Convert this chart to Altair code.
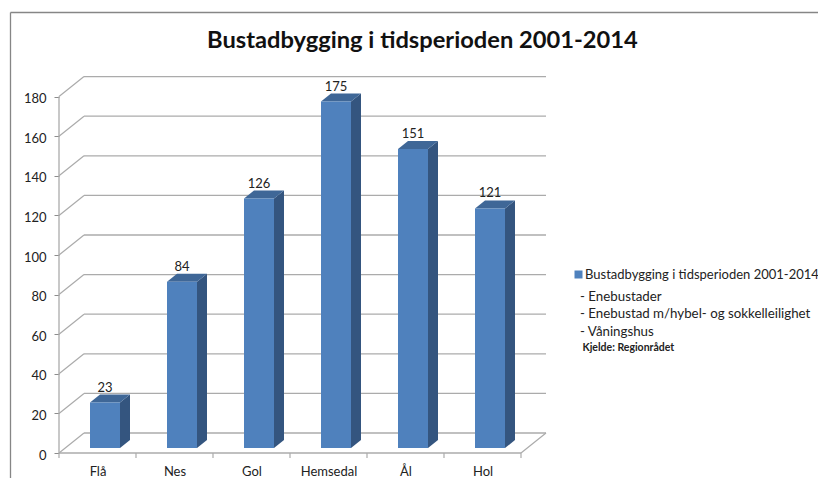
import altair as alt
import pandas as pd

categories = ["Flå", "Nes", "Gol", "Hemsedal", "Ål", "Hol"]
values = [23, 84, 126, 175, 151, 121]
y_ticks = [0, 20, 40, 60, 80, 100, 120, 140, 160, 180]
series = "Bustadbygging i tidsperioden 2001-2014"
notes = ["- Enebustader", "- Enebustad m/hybel- og sokkelleilighet", "- Våningshus"]
note_rows = [219.5, 237, 255]
source_note = "Kjelde: Regionrådet"
title_text = "Bustadbygging i tidsperioden 2001-2014"

FONT = "Lato"
W, H = 487, 376
DEPTH_X, DEPTH_Y = 25 / 77, 20 / 1.98        # wall depth in data units
X0, X1 = -0.5, 5.5
BAR_SHIFT, BAR_HALF = 7.5 / 77, 15 / 77
BAR_BASE = 2.5
SIDE_X, SIDE_Y = 10 / 77, 8 / 1.98

x_scale = alt.Scale(domain=[X0, X1 + DEPTH_X], nice=False, zero=False)
y_scale = alt.Scale(domain=[0, H / 1.98], nice=False, zero=False)
xq = alt.X("x:Q", scale=x_scale, title=None,
           axis=alt.Axis(values=list(range(6)), grid=False, domain=False, ticks=False,
                         labelExpr="['Flå','Nes','Gol','Hemsedal','Ål','Hol'][datum.value]",
                         labelFont=FONT, labelFontSize=13, labelColor="#222222",
                         labelPadding=12, labelAngle=0, labelFlush=False, labelOverlap=False))
yq = alt.Y("y:Q", scale=y_scale, title=None,
           axis=alt.Axis(values=y_ticks, grid=False, domain=False, tickColor="#8c8c8c", tickSize=5,
                         labelFont=FONT, labelFontSize=13, labelColor="#222222", labelPadding=8,
                         labelOffset=2, labelFlush=False, labelOverlap=False))
x2 = alt.X2("x2:Q")
y2 = alt.Y2("y2:Q")

GRID = "#ababab"

# wall grid lines and diagonals
walls = pd.DataFrame(
    [{"x": X0 + DEPTH_X, "x2": X1 + DEPTH_X, "y": v + DEPTH_Y, "y2": v + DEPTH_Y} for v in y_ticks]
    + [{"x": X0, "x2": X0 + DEPTH_X, "y": v, "y2": v + DEPTH_Y} for v in y_ticks]
    + [{"x": X1, "x2": X1 + DEPTH_X, "y": 0, "y2": DEPTH_Y},
       {"x": X0, "x2": X1, "y": 0, "y2": 0},
       {"x": X0, "x2": X0, "y": 0, "y2": 180}]
)
wall_layer = alt.Chart(walls).mark_rule(color=GRID, strokeWidth=1.3).encode(x=xq, x2=x2, y=yq, y2=y2)

# x ticks on the category boundaries
tick_df = pd.DataFrame({"x": [X0 + i for i in range(7)]})
tick_layer = alt.Chart(tick_df).mark_rule(color=GRID, strokeWidth=1.2).encode(
    x=xq, y=alt.value(H), y2=alt.value(H + 5))

rows_front, rows_side, rows_top = [], [], []
for i, (c, v) in enumerate(zip(categories, values)):
    left = i + BAR_SHIFT - BAR_HALF
    right = i + BAR_SHIFT + BAR_HALF
    top = BAR_BASE + v
    rows_front.append({"x": left, "x2": right, "y": BAR_BASE, "y2": top, "s": series})
    rows_side += [
        {"c": c, "x": right, "y": BAR_BASE, "y2": top},
        {"c": c, "x": right + SIDE_X, "y": BAR_BASE + SIDE_Y, "y2": top + SIDE_Y},
    ]
    rows_top += [
        {"c": c, "x": left, "y": top, "y2": top},
        {"c": c, "x": left + SIDE_X, "y": top, "y2": top + SIDE_Y},
        {"c": c, "x": right, "y": top, "y2": top + SIDE_Y},
        {"c": c, "x": right + SIDE_X, "y": top + SIDE_Y, "y2": top + SIDE_Y},
    ]

legend = alt.Legend(title=None, orient="none", legendX=513, legendY=191, symbolType="square",
                    symbolSize=64, symbolStrokeWidth=0, labelFont=FONT, labelFontSize=13,
                    labelColor="#222222", labelLimit=300, padding=0, symbolOffset=0, labelOffset=0)
front = alt.Chart(pd.DataFrame(rows_front)).mark_rect().encode(
    x=xq, x2=x2, y=yq, y2=y2,
    color=alt.Color("s:N", scale=alt.Scale(domain=[series], range=["#4F81BD"]), legend=legend))
side = alt.Chart(pd.DataFrame(rows_side)).mark_area(color="#34557F", orient="vertical").encode(
    x=xq, y=yq, y2=y2, detail="c:N")
top_face = alt.Chart(pd.DataFrame(rows_top)).mark_area(color="#3F6797", orient="vertical").encode(
    x=xq, y=yq, y2=y2, detail="c:N")

labels = alt.Chart(pd.DataFrame({
    "x": [i + BAR_SHIFT for i in range(6)],
    "y": [BAR_BASE + v + SIDE_Y for v in values],
    "t": values,
})).mark_text(font=FONT, fontSize=13, color="#222222", baseline="bottom").encode(
    x=xq, y=yq, text="t:N")

# notes under the legend
note_layers = [
    alt.Chart(pd.DataFrame({"t": [t]})).mark_text(
        font=FONT, fontSize=13.3, color="#222222", align="left"
    ).encode(x=alt.value(521), y=alt.value(r), text="t:N")
    for t, r in zip(notes, note_rows)
]
src_layer = alt.Chart(pd.DataFrame({"t": [source_note]})).mark_text(
    font=FONT, fontSize=10.5, fontWeight="bold", color="#222222", align="left"
).encode(x=alt.value(523.5), y=alt.value(270.5), text="t:N")

# outer frame of the picture
frame_df = pd.DataFrame({"k": ["left", "top"]})
frame_left = alt.Chart(frame_df.iloc[[0]]).mark_rule(color="#868686", strokeWidth=1.3).encode(
    x=alt.value(-48.5), y=alt.value(-64.5), y2=alt.value(H + 25))
frame_top = alt.Chart(frame_df.iloc[[1]]).mark_rule(color="#868686", strokeWidth=1.3).encode(
    x=alt.value(-48.5), x2=alt.value(767), y=alt.value(-64.5))

chart = alt.layer(
    wall_layer, tick_layer, side, top_face, front, labels, *note_layers, src_layer, frame_left, frame_top
).resolve_scale(x="shared", y="shared").properties(
    width=W, height=H,
    padding={"left": 51, "top": 69, "right": 272, "bottom": 25},
    autosize=alt.AutoSizeParams(type="none"),
    title=alt.TitleParams(title_text, anchor="start", dx=148, offset=-41, font=FONT, fontSize=23.7,
                          fontWeight="bold", color="#111111", frame="group"),
).configure_view(stroke=None)

chart.save("out.html", embed_options={"renderer": "svg", "actions": False})
